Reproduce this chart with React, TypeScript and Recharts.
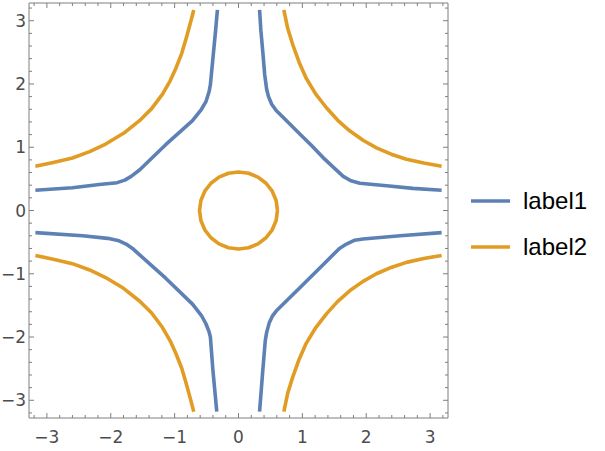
import React from 'react';
import { LineChart, Line, XAxis, YAxis, Legend } from 'recharts';

type P = { x: number; y: number };
const pts = (a: number[][]): P[] => a.map(([x, y]) => ({ x, y }));

// label1 (blue) contour branches
const blueQ1 = pts([[0.33,3.17],[0.35,2.85],[0.38,2.51],[0.41,2.15],[0.44,1.92],[0.47,1.80],[0.52,1.68],[0.59,1.58],[0.78,1.39],[0.96,1.21],[1.14,1.03],[1.32,0.84],[1.50,0.67],[1.64,0.54],[1.76,0.47],[1.90,0.43],[2.32,0.39],[2.73,0.35],[3.18,0.32]]);
const blueQ2 = pts([[-3.18,0.32],[-2.60,0.36],[-2.18,0.41],[-1.90,0.44],[-1.78,0.48],[-1.68,0.54],[-1.55,0.64],[-1.14,1.04],[-0.72,1.42],[-0.58,1.60],[-0.51,1.72],[-0.46,1.88],[-0.44,1.99],[-0.40,2.41],[-0.36,2.83],[-0.33,3.17]]);
const blueQ3 = pts([[-3.18,-0.35],[-2.44,-0.40],[-2.05,-0.44],[-1.87,-0.48],[-1.76,-0.53],[-1.66,-0.60],[-1.14,-1.07],[-0.72,-1.48],[-0.58,-1.66],[-0.51,-1.79],[-0.46,-1.92],[-0.44,-2.00],[-0.40,-2.53],[-0.34,-3.18]]);
const blueQ4 = pts([[0.33,-3.18],[0.38,-2.53],[0.42,-2.05],[0.44,-1.93],[0.48,-1.78],[0.53,-1.67],[0.59,-1.59],[0.96,-1.22],[1.32,-0.86],[1.58,-0.60],[1.69,-0.53],[1.82,-0.47],[1.95,-0.45],[2.53,-0.40],[3.18,-0.35]]);

// label2 (orange) contour branches
const orangeQ1 = pts([[0.71,3.17],[0.77,2.88],[0.85,2.62],[0.95,2.34],[1.06,2.09],[1.21,1.84],[1.38,1.62],[1.55,1.43],[1.74,1.26],[1.95,1.11],[2.16,0.99],[2.39,0.89],[2.63,0.81],[2.90,0.75],[3.18,0.70]]);
const orangeQ2 = pts([[-3.18,0.70],[-2.90,0.76],[-2.60,0.83],[-2.33,0.93],[-2.08,1.05],[-1.80,1.22],[-1.55,1.42],[-1.36,1.61],[-1.19,1.84],[-1.07,2.05],[-0.98,2.25],[-0.89,2.48],[-0.82,2.72],[-0.76,2.94],[-0.70,3.17]]);
const orangeQ3 = pts([[-3.18,-0.71],[-2.90,-0.77],[-2.60,-0.84],[-2.33,-0.94],[-2.08,-1.06],[-1.80,-1.23],[-1.55,-1.43],[-1.36,-1.62],[-1.19,-1.85],[-1.07,-2.06],[-0.98,-2.26],[-0.89,-2.49],[-0.82,-2.73],[-0.76,-2.95],[-0.70,-3.18]]);
const orangeQ4 = pts([[0.71,-3.18],[0.77,-2.89],[0.85,-2.63],[0.95,-2.35],[1.06,-2.10],[1.21,-1.85],[1.38,-1.63],[1.55,-1.44],[1.74,-1.27],[1.95,-1.12],[2.16,-1.00],[2.39,-0.90],[2.63,-0.82],[2.90,-0.76],[3.18,-0.71]]);
const orangeRing = pts([[0.61,0],[0.589,0.158],[0.528,0.305],[0.431,0.431],[0.305,0.528],[0.158,0.589],[0,0.61],[-0.158,0.589],[-0.305,0.528],[-0.431,0.431],[-0.528,0.305],[-0.589,0.158],[-0.61,0],[-0.589,-0.158],[-0.528,-0.305],[-0.431,-0.431],[-0.305,-0.528],[-0.158,-0.589],[0,-0.61],[0.158,-0.589],[0.305,-0.528],[0.431,-0.431],[0.528,-0.305],[0.589,-0.158],[0.61,0]]);

const seriesNames = ['label1', 'label2'];
const seriesColors = ['#5E81B5', '#E19C24'];
const blueBranches = [blueQ1, blueQ2, blueQ3, blueQ4];
const orangeBranches = [orangeQ1, orangeQ2, orangeQ3, orangeQ4, orangeRing];

const axisDomain: [number, number] = [-3.28, 3.28];
const allTicks = [-3.2,-3,-2.8,-2.6,-2.4,-2.2,-2,-1.8,-1.6,-1.4,-1.2,-1,-0.8,-0.6,-0.4,-0.2,0,0.2,0.4,0.6,0.8,1,1.2,1.4,1.6,1.8,2,2.2,2.4,2.6,2.8,3,3.2];
const majorTickLabels: Record<string, string> = { '-3': '−3', '-2': '−2', '-1': '−1', '0': '0', '1': '1', '2': '2', '3': '3' };

const FRAME = '#7f7f7f';
const LABEL = '#4d4d4d';
const TICK_FONT = 'DejaVu Sans, sans-serif';
const TICK_SIZE = 17;

const isMajor = (v: number) => Math.abs(v - Math.round(v)) < 1e-6;

const makeTick = (side: 'bottom' | 'top' | 'left' | 'right') => (props: any) => {
  const { x, y, payload } = props;
  const v = payload.value as number;
  const major = isMajor(v);
  const len = major ? 5 : 3;
  let line;
  let label = null;
  if (side === 'bottom') {
    line = <line x1={x} y1={y} x2={x} y2={y - len} stroke={FRAME} strokeWidth={1} />;
    if (major) label = <text x={x} y={y + 25} textAnchor="middle" fill={LABEL} fontSize={TICK_SIZE} fontFamily={TICK_FONT}>{majorTickLabels[String(Math.round(v))]}</text>;
  } else if (side === 'top') {
    line = <line x1={x} y1={y} x2={x} y2={y + len} stroke={FRAME} strokeWidth={1} />;
  } else if (side === 'left') {
    line = <line x1={x} y1={y} x2={x + len} y2={y} stroke={FRAME} strokeWidth={1} />;
    if (major) label = <text x={x - 3} y={y + 6} textAnchor="end" fill={LABEL} fontSize={TICK_SIZE} fontFamily={TICK_FONT}>{majorTickLabels[String(Math.round(v))]}</text>;
  } else {
    line = <line x1={x} y1={y} x2={x - len} y2={y} stroke={FRAME} strokeWidth={1} />;
  }
  return <g>{line}{label}</g>;
};

const LegendBox = () => (
  <div style={{ fontFamily: 'Liberation Sans, Arial, sans-serif', fontSize: 24, color: '#000' }}>
    {seriesNames.map((name, i) => (
      <div key={name} style={{ display: 'flex', alignItems: 'center', height: 46 }}>
        <svg width={39} height={6} style={{ display: 'block' }}>
          <line x1={0} y1={3} x2={39} y2={3} stroke={seriesColors[i]} strokeWidth={3.5} />
        </svg>
        <span style={{ marginLeft: 13, lineHeight: 1 }}>{name}</span>
      </div>
    ))}
  </div>
);

export default function App() {
  return (
    <div style={{ position: 'absolute', left: 0, top: 0, width: 605, height: 451, background: '#fff' }}>
      <LineChart width={605} height={451} margin={{ top: 2, right: 156, bottom: 0, left: 0 }}>
        <XAxis xAxisId="b" dataKey="x" type="number" orientation="bottom" domain={axisDomain} allowDataOverflow ticks={allTicks} interval={0} height={33} tickSize={0} tickMargin={0} tickLine={false} axisLine={{ stroke: FRAME }} tick={makeTick('bottom')} />
        <XAxis xAxisId="t" dataKey="x" type="number" orientation="top" domain={axisDomain} allowDataOverflow ticks={allTicks} interval={0} height={1} tickSize={0} tickMargin={0} tickLine={false} axisLine={{ stroke: FRAME }} tick={makeTick('top')} />
        <YAxis yAxisId="l" type="number" orientation="left" domain={axisDomain} allowDataOverflow ticks={allTicks} interval={0} width={29} tickSize={0} tickMargin={0} tickLine={false} axisLine={{ stroke: FRAME }} tick={makeTick('left')} />
        <YAxis yAxisId="r" type="number" orientation="right" domain={axisDomain} allowDataOverflow ticks={allTicks} interval={0} width={1} tickSize={0} tickMargin={0} tickLine={false} axisLine={{ stroke: FRAME }} tick={makeTick('right')} />
        <Legend layout="vertical" align="center" verticalAlign="middle" wrapperStyle={{ left: 471, top: 178, width: 134, height: 92 }} content={() => <LegendBox />} />
        {blueBranches.map((d, i) => (
          <Line key={'b' + i} xAxisId="b" yAxisId="l" data={d} dataKey="y" name={seriesNames[0]} type="linear" stroke={seriesColors[0]} strokeWidth={3.6} dot={false} activeDot={false} isAnimationActive={false} strokeLinejoin="round" strokeLinecap="butt" />
        ))}
        {orangeBranches.map((d, i) => (
          <Line key={'o' + i} xAxisId="t" yAxisId="r" data={d} dataKey="y" name={seriesNames[1]} type="linear" stroke={seriesColors[1]} strokeWidth={3.6} dot={false} activeDot={false} isAnimationActive={false} strokeLinejoin="round" strokeLinecap="butt" />
        ))}
      </LineChart>
    </div>
  );
}
